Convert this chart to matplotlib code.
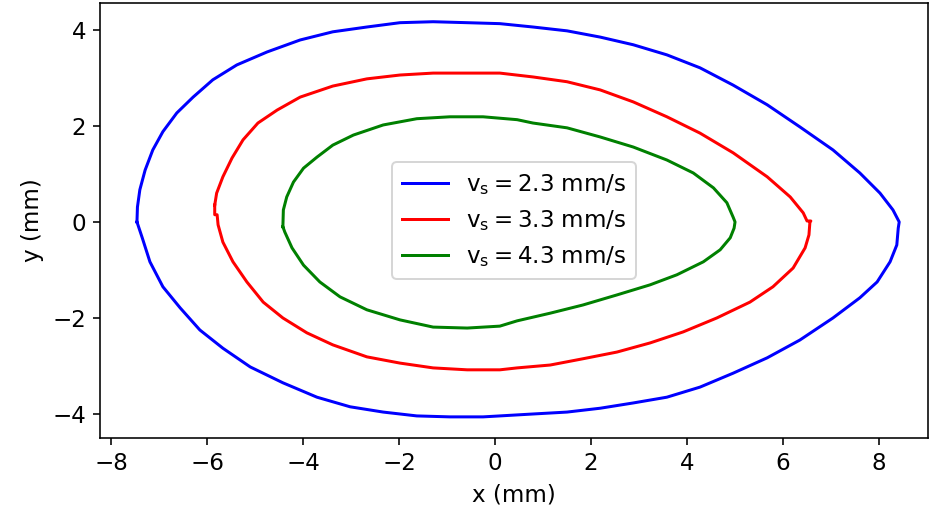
import matplotlib.pyplot as plt

plt.rcParams['font.size'] = 11.5

# trajectory points (mm), traced around each loop
x_23 = [-7.46, -7.45, -7.40, -7.29, -7.13, -6.92, -6.63, -6.29, -5.88, -5.38, -4.75, -4.06,
        -3.38, -2.67, -1.98, -1.29, -0.58, 0.10, 0.79, 1.50, 2.19, 2.88, 3.58, 4.27,
        4.96, 5.67, 6.35, 7.04, 7.60, 8.02, 8.29, 8.42, 8.40, 8.37, 8.23, 7.96, 7.60,
        7.04, 6.35, 5.67, 4.96, 4.27, 3.58, 2.88, 2.19, 1.50, 0.79, 0.10, -0.25, -0.94,
        -1.63, -2.33, -3.02, -3.71, -4.42, -5.10, -5.67, -6.15, -6.56, -6.92, -7.19,
        -7.35, -7.46]
y_23 = [0.00, 0.31, 0.67, 1.08, 1.50, 1.88, 2.27, 2.60, 2.96, 3.27, 3.54, 3.79,
        3.96, 4.06, 4.15, 4.17, 4.15, 4.13, 4.06, 3.98, 3.85, 3.69, 3.48, 3.21,
        2.85, 2.44, 1.98, 1.50, 1.02, 0.60, 0.25, 0.00, -0.13, -0.48, -0.83, -1.25, -1.58,
        -2.00, -2.46, -2.83, -3.15, -3.44, -3.65, -3.77, -3.88, -3.96, -4.00, -4.04, -4.06, -4.06,
        -4.04, -3.96, -3.85, -3.65, -3.35, -3.02, -2.63, -2.25, -1.79, -1.35, -0.83,
        -0.33, 0.00]

x_33 = [-5.84, -5.80, -5.67, -5.48, -5.25, -4.94, -4.54, -4.06, -3.38, -2.67, -1.98,
        -1.29, -0.58, 0.10, 0.79, 1.50, 2.19, 2.88, 3.58, 4.27, 4.96, 5.67, 6.15,
        6.42, 6.50, 6.58, 6.56, 6.54, 6.46, 6.21, 5.79, 5.31, 4.62, 3.92, 3.23, 2.54,
        1.83, 1.15, 0.46, 0.10, -0.58, -1.29, -1.98, -2.67, -3.38, -3.92, -4.42, -4.83,
        -5.17, -5.46, -5.67, -5.77, -5.79, -5.84, -5.84]
y_33 = [0.35, 0.60, 0.94, 1.33, 1.71, 2.06, 2.33, 2.60, 2.83, 2.98, 3.06,
        3.10, 3.10, 3.10, 3.02, 2.92, 2.75, 2.50, 2.19, 1.85, 1.44, 0.94, 0.52,
        0.19, 0.02, 0.02, 0.00, -0.27, -0.54, -0.96, -1.35, -1.67, -2.00, -2.29, -2.52, -2.71,
        -2.85, -2.98, -3.04, -3.08, -3.08, -3.04, -2.94, -2.81, -2.56, -2.31, -2.00, -1.67,
        -1.25, -0.83, -0.42, -0.06, 0.15, 0.15, 0.35]

x_43 = [-4.42, -4.41, -4.34, -4.20, -3.99, -3.71, -3.38, -2.95, -2.33, -1.63, -0.94, -0.25,
        0.46, 0.79, 1.50, 2.19, 2.88, 3.58, 4.13, 4.55, 4.83, 4.96, 5.00, 4.98, 4.90,
        4.69, 4.34, 3.79, 3.23, 2.54, 1.83, 1.15, 0.46, 0.10, -0.58, -1.29, -1.98, -2.67,
        -3.23, -3.65, -3.99, -4.23, -4.38, -4.42]
y_43 = [-0.10, 0.25, 0.52, 0.83, 1.12, 1.35, 1.60, 1.81, 2.02, 2.15, 2.19, 2.19,
        2.13, 2.06, 1.96, 1.77, 1.56, 1.29, 1.02, 0.71, 0.40, 0.10, 0.00, -0.13, -0.33,
        -0.58, -0.83, -1.10, -1.31, -1.52, -1.73, -1.90, -2.06, -2.17, -2.21, -2.19, -2.04, -1.83,
        -1.56, -1.25, -0.90, -0.54, -0.21, -0.10]

labels = [r'$\mathrm{v_s = 2.3}$ mm/s', r'$\mathrm{v_s = 3.3}$ mm/s', r'$\mathrm{v_s = 4.3}$ mm/s']

fig = plt.figure(figsize=(930/144, 519/144), dpi=144)
ax = fig.add_axes([100/930, 81/519, 828/930, 435/519])

ax.plot(x_23, y_23, color='blue', label=labels[0])
ax.plot(x_33, y_33, color='red', label=labels[1])
ax.plot(x_43, y_43, color='green', label=labels[2])

ax.set_xlim(-8.23, 9.02)
ax.set_ylim(-4.5, 4.56)
ax.set_xticks([-8, -6, -4, -2, 0, 2, 4, 6, 8])
ax.set_yticks([-4, -2, 0, 2, 4])
ax.set_xlabel('x (mm)')
ax.set_ylabel('y (mm)')
ax.legend(loc='center')

fig.savefig('out.png', dpi=144)
